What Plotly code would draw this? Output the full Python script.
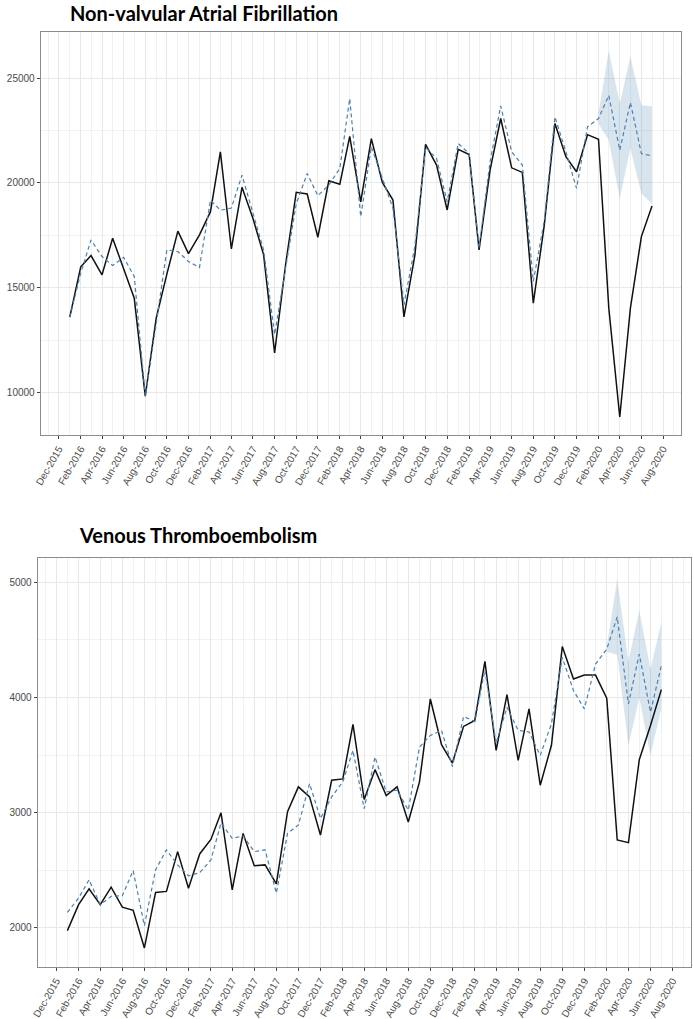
import pandas as pd
import plotly.graph_objects as go

# ---- data ----
start_month = "2016-01-01"
end_month = "2020-07-01"
months = pd.date_range(start_month, end_month, freq="MS")
band_months = pd.date_range("2020-02-01", end_month, freq="MS")

af_observed = [13600, 16000, 16540, 15620, 17360, 15900, 14500, 9840, 13560, 15650,
               17700, 16630, 17520, 18630, 21480, 16850, 19790, 18300, 16570, 11900,
               16100, 19550, 19470, 17410, 20100, 19940, 22220, 19100, 22110, 20020,
               19180, 13610, 16570, 21840, 20850, 18710, 21600, 21350, 16810, 20610,
               23070, 20720, 20500, 14270, 17990, 22830, 21250, 20530, 22300, 22080,
               14030, 8840, 14030, 17440, 18900]
af_expected = [13600, 15700, 17280, 16490, 16060, 16450, 15540, 9840, 13300, 16810,
               16730, 16250, 15970, 19180, 18700, 18800, 20370, 18500, 16800, 12770,
               16000, 19000, 20450, 19390, 19900, 20690, 24020, 18390, 21720, 20210,
               18790, 14190, 17000, 21700, 21160, 19100, 21880, 21400, 16900, 21010,
               23670, 21480, 20850, 15300, 18200, 23150, 21480, 19740, 22670, 23070,
               24170, 21560, 23830, 21400, 21290]
af_upper = [23320, 26310, 23780, 26030, 23700, 23650]
af_lower = [22820, 22030, 19260, 21640, 19500, 18990]

vte_observed = [1977, 2202, 2340, 2202, 2354, 2181, 2153, 1827, 2308, 2317,
                2662, 2345, 2642, 2768, 2999, 2331, 2820, 2540, 2547, 2383,
                3008, 3224, 3137, 2806, 3281, 3293, 3765, 3114, 3373, 3148,
                3224, 2919, 3267, 3986, 3589, 3430, 3748, 3800, 4312, 3540,
                4024, 3454, 3900, 3238, 3584, 4441, 4159, 4193, 4193, 3992,
                2763, 2740, 3459, 3756, 4067]
vte_expected = [2135, 2259, 2418, 2202, 2274, 2280, 2498, 2020, 2504, 2677,
                2547, 2452, 2480, 2590, 2910, 2777, 2798, 2662, 2677, 2302,
                2820, 2893, 3252, 2950, 3137, 3267, 3540, 3034, 3483, 3180,
                3195, 3022, 3569, 3670, 3713, 3400, 3834, 3790, 4240, 3600,
                3914, 3713, 3700, 3497, 3770, 4346, 4059, 3900, 4288, 4418,
                4698, 3943, 4375, 3871, 4275]
vte_upper = [4440, 5025, 4310, 4755, 4245, 4650]
vte_lower = [4395, 4370, 3580, 3995, 3500, 3900]

titles = ["Non-valvular Atrial Fibrillation", "Venous Thromboembolism"]
y_ticks_top = [10000, 15000, 20000, 25000]
y_ticks_bottom = [2000, 3000, 4000, 5000]

# ---- figure ----
W, H = 694, 1019
fig = go.Figure()

BAND = "rgba(70,130,180,0.21)"
DASH = "#4a80b3"


def add_panel(obs, exp, up, lo, xa, ya):
    fig.add_trace(go.Scatter(x=band_months, y=lo, mode="lines", line=dict(width=0),
                             xaxis=xa, yaxis=ya, showlegend=False, hoverinfo="skip"))
    fig.add_trace(go.Scatter(x=band_months, y=up, mode="lines", line=dict(width=0),
                             fill="tonexty", fillcolor=BAND,
                             xaxis=xa, yaxis=ya, showlegend=False, hoverinfo="skip"))
    fig.add_trace(go.Scatter(x=months, y=obs, mode="lines",
                             line=dict(color="#111111", width=1.5),
                             xaxis=xa, yaxis=ya, showlegend=False))
    fig.add_trace(go.Scatter(x=months, y=exp, mode="lines",
                             line=dict(color=DASH, width=1.2, dash="4px,3px"),
                             xaxis=xa, yaxis=ya, showlegend=False))


add_panel(af_observed, af_expected, af_upper, af_lower, "x", "y")
add_panel(vte_observed, vte_expected, vte_upper, vte_lower, "x2", "y2")

span = months[-1] - months[0]
xr = [months[0] - span * 0.05, months[-1] + span * 0.05]
TICKFONT = dict(family="Liberation Sans", size=10, color="#4a4a4a")


def xaxis_def(l, r, anchor):
    return dict(
        domain=[l / W, r / W], anchor=anchor, type="date", range=xr,
        tick0="2015-12-01", dtick="M2", tickformat="%b-%Y", tickangle=-60,
        tickfont=TICKFONT,
        ticks="outside", ticklen=3, tickwidth=0.8, tickcolor="#444444",
        showgrid=True, gridcolor="#e8e8e8", gridwidth=1,
        minor=dict(dtick="M1", showgrid=True, gridcolor="#f1f1f1", gridwidth=0.6, ticks=""),
        showline=True, mirror=True, linecolor="#8c8c8c", linewidth=1, zeroline=False,
    )


def yaxis_def(t, b, anchor, rng, ticks, minor_d):
    return dict(
        domain=[1 - b / H, 1 - t / H], anchor=anchor, range=rng,
        tickvals=ticks, ticktext=[str(v) for v in ticks],
        tickfont=TICKFONT,
        ticks="outside", ticklen=3, tickwidth=0.8, tickcolor="#444444",
        showgrid=True, gridcolor="#e8e8e8", gridwidth=1,
        minor=dict(dtick=minor_d, tick0=0, showgrid=True, gridcolor="#f1f1f1", gridwidth=0.6, ticks=""),
        showline=True, mirror=True, linecolor="#8c8c8c", linewidth=1, zeroline=False,
    )


fig.update_layout(
    width=W, height=H, margin=dict(l=0, r=0, t=0, b=0),
    paper_bgcolor="white", plot_bgcolor="white",
    xaxis=xaxis_def(34, 681, "y"),
    yaxis=yaxis_def(32, 437, "x", [7970, 27200], y_ticks_top, 2500),
    xaxis2=xaxis_def(31, 691, "y2"),
    yaxis2=yaxis_def(560, 971, "x2", [1660, 5210], y_ticks_bottom, 500),
    annotations=[
        dict(text="<b>" + titles[0] + "</b>", x=62 / W, y=1 - 13 / H, xref="paper", yref="paper",
             xanchor="left", yanchor="middle", showarrow=False,
             font=dict(family="Lato", size=20, color="#000000")),
        dict(text="<b>" + titles[1] + "</b>", x=71 / W, y=1 - 537 / H, xref="paper", yref="paper",
             xanchor="left", yanchor="middle", showarrow=False,
             font=dict(family="Lato", size=20, color="#000000")),
    ],
)

fig.write_html("out.html", config={"displayModeBar": False},
               post_script="document.body.style.margin='0';document.body.style.overflow='hidden';")
